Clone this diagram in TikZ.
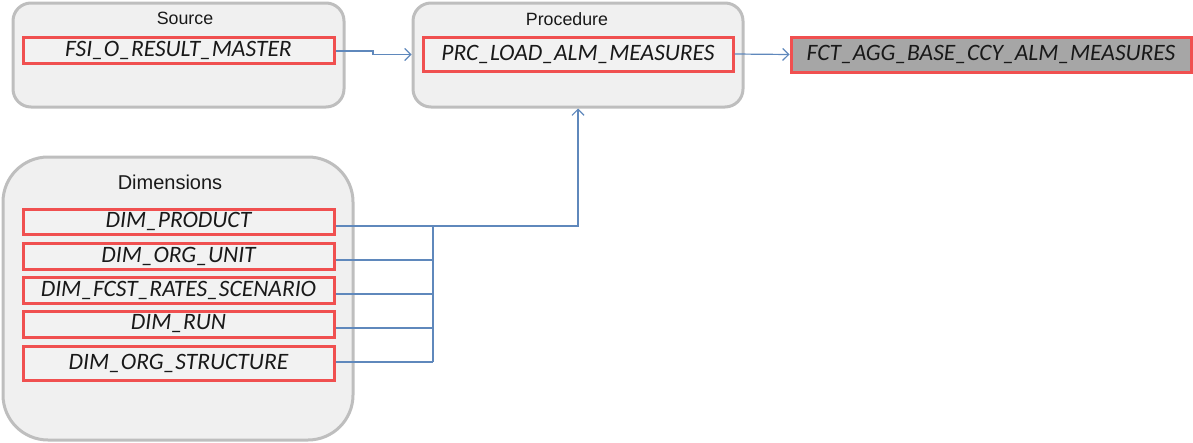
\documentclass[tikz,border=0pt]{standalone}
\usepackage{fontspec}
\setmainfont{Liberation Sans}
\newfontfamily\boxfont{Carlito}
\usetikzlibrary{arrows.meta}
\definecolor{contfill}{HTML}{F0F0F0}
\definecolor{contdraw}{HTML}{BEBEBE}
\definecolor{boxfill}{HTML}{F2F2F2}
\definecolor{boxdraw}{HTML}{F05050}
\definecolor{fctfill}{HTML}{A6A6A6}
\definecolor{linkcol}{HTML}{5F88BC}
\tikzset{
  container/.style={draw=contdraw, fill=contfill, line width=3pt, rounded corners=18pt, inner sep=0pt},
  tablebox/.style={draw=boxdraw, fill=boxfill, line width=3pt, inner sep=0pt, minimum width=311pt,
     font=\boxfont\itshape\fontsize{23.5}{25}\selectfont, text=black!90},
  title/.style={font=\fontsize{17.8}{19}\selectfont, text=black!90, inner sep=0pt},
  link/.style={draw=linkcol, line width=1.2pt},
  arrowlink/.style={link, -{Straight Barb[length=6pt,width=12pt,line width=1.2pt]}},
}
\begin{document}
\begin{tikzpicture}[x=1pt,y=-1pt]
\useasboundingbox (0,0) rectangle (1193,442);
% containers
\node[container, minimum width=331pt, minimum height=104pt] (src) at (178.5,55) {};
\node[container, minimum width=330pt, minimum height=104pt] (proc) at (578,55) {};
\node[container, rounded corners=45pt, minimum width=350pt, minimum height=283pt] (dims) at (178,298.5) {};
% titles
\node[title] (srct) at (185,18) {Source};
\node[title] (proct) at (567,19) {Procedure};
\node[title, font=\fontsize{20}{22}\selectfont] (dimst) at (170,182) {Dimensions};
% table boxes
\node[tablebox, minimum height=26pt] (fsi) at (178.5,50) {FSI\_O\_RESULT\_MASTER};
\node[tablebox, minimum width=310pt, minimum height=34pt] (prc) at (578,54) {PRC\_LOAD\_ALM\_MEASURES};
\node[tablebox, fill=fctfill, minimum width=400pt, minimum height=35pt] (fct) at (991,54.5) {FCT\_AGG\_BASE\_CCY\_ALM\_MEASURES};
\node[tablebox, minimum height=25pt] (dprod) at (178.5,221.5) {DIM\_PRODUCT};
\node[tablebox, minimum height=26pt] (dorg) at (178.5,256) {DIM\_ORG\_UNIT};
\node[tablebox, minimum height=26pt] (dfcst) at (178.5,290) {DIM\_FCST\_RATES\_SCENARIO};
\node[tablebox, minimum height=26pt] (drun) at (178.5,324) {DIM\_RUN};
\node[tablebox, minimum height=34pt] (dstr) at (178.5,363) {DIM\_ORG\_STRUCTURE};
% connectors
\coordinate (jog) at (373,51);
\draw[arrowlink] (fsi.east |- jog) -- (jog) -- ++(0,3.5) -- (proc.west |- 0,54.5);
\draw[arrowlink] (prc.east) -- (fct.west);
\coordinate (bustop) at (433,226);
\coordinate (busbot) at (433,362);
\coordinate (turn) at (578,226);
\draw[link] (bustop) -- (busbot);
\draw[link] ([yshift=-4.5pt]dprod.east) -- (bustop);
\draw[link] ([yshift=-4pt]dorg.east) -- (bustop |- 0,260);
\draw[link] ([yshift=-4pt]dfcst.east) -- (bustop |- 0,294);
\draw[link] ([yshift=-4pt]drun.east) -- (bustop |- 0,328);
\draw[link] ([yshift=1pt]dstr.east) -- (busbot);
\draw[arrowlink] (bustop) -- (turn) -- (proc.south);
\end{tikzpicture}
\end{document}
